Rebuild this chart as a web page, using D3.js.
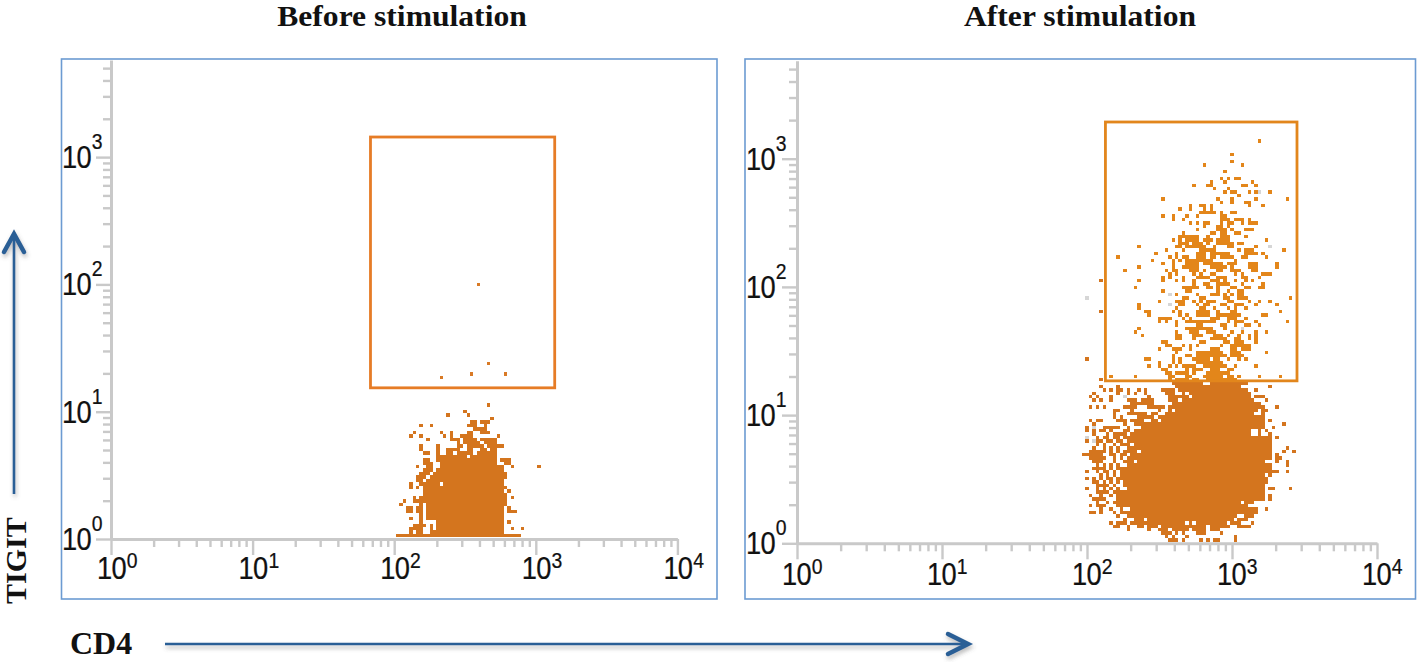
<!DOCTYPE html>
<html>
<head>
<meta charset="utf-8">
<title>TIGIT vs CD4</title>
<script src="https://cdn.jsdelivr.net/npm/d3@7"></script>
<style>
	html, body { margin: 0; padding: 0; background: #fff; }
	svg { display: block; }
</style>
</head>
<body>
<div id="chart"></div>
<script>
// flow cytometer channels: [tigit channel, cd4 channel or [from, to] run, ...]
const beforeEvents = [
	[1,[85,121]],
	[2,89,[91,92],[95,96],[97,116]],
	[3,[89,92],95,[97,116],119,122],
	[4,[90,93],95,[97,116]],
	[5,92,[97,116],118],
	[6,89,92,[94,116]],
	[7,92,[94,116]],
	[8,[88,89],[91,92],[94,116],[118,120]],
	[9,[88,89],[91,92],[94,116],118],
	[10,86,92,[94,117]],
	[11,87,[90,93],[94,117]],
	[12,90,[92,117],119],
	[13,[93,117]],
	[14,[93,116],118],
	[15,89,91,[93,117]],
	[16,89,[92,97],[99,116]],
	[17,[91,92],[94,116]],
	[18,[91,93],[95,117]],
	[19,[92,94],[96,117]],
	[20,[93,95],[97,116]],
	[21,91,[94,95],[98,116],119,127],
	[22,[93,95],[98,99],[100,114],[117,118]],
	[23,[93,94],[97,98],[99,114],[116,118]],
	[24,[97,98],[99,105],[107,114]],
	[25,[93,94],97,[100,101],[103,107],[109,114]],
	[26,92,97,[100,103],[106,107],[110,111],[113,114]],
	[27,92,97,[103,104],[106,110],[112,116]],
	[28,103,[105,109],[111,114]],
	[29,94,[101,103],[105,108],[110,114]],
	[30,89,92,99,101,[104,107],115],
	[31,90,98,101,[106,107],[110,112]],
	[32,[108,111]],
	[33,92,95,[106,108],111],
	[34,[107,108],[110,112]],
	[35,113],
	[36,100,106],
	[37,105],
	[39,112],
	[47,98],
	[48,107,117],
	[51,112],
	[74,109]
];

const afterEvents = [
	[118,134],
	[114,126],
	[112,126],
	[111,118,129],
	[109,124],
	[107,123,125,[127,128]],
	[106,120,124,132],
	[105,115,[119,120],[129,130],133],
	[104,121,125],
	[103,124,[126,127],131,133,137],
	[102,128],
	[101,106,122,126,133,142],
	[100,123,126,[130,131]],
	[99,114,[117,118],120,131,135],
	[98,111,114,118,120],
	[97,[117,121],123,[126,127]],
	[96,106,109,113,116,[123,124]],
	[95,109,112,[123,125],[127,129],131],
	[94,114,116,[118,119],123,[125,126],129,[131,133]],
	[93,118,[122,123],125],
	[92,116,[122,124],126,[130,132]],
	[91,112,[120,121],[123,124],[127,128]],
	[90,[111,113],[114,116],119,[123,125],130],
	[89,109,111,[113,116],[118,120],[122,125],136],
	[88,[111,113],[115,117],119,[122,126],[128,129]],
	[87,99,[110,111],[113,118],121,[125,126],133],
	[86,107,112,[117,121],128,[130,132],141],
	[85,104,110,[116,118],[120,125],[130,133],135],
	[84,93,108,110,[112,113],[116,118],[120,121],[123,126],[129,130],136],
	[83,103,109,111,[113,120],127],
	[82,106,109,[113,116],[118,123],[125,127],[131,133],139],
	[81,99,109,[112,116],[120,124],126,[131,133],139],
	[80,95,107,[109,110],[114,116],118,[122,123],[126,128],[132,133]],
	[79,108,110,115,117,[120,121],127,129,[135,137]],
	[78,106,108,112,[116,119],[122,124],[129,130],134],
	[77,88,99,106,110,112,115,[120,122],124,127,130,132],
	[76,115,[118,119],[122,125],129,135],
	[75,98,[112,116],[119,120],122,[126,127],[130,131],[134,135]],
	[74,106,[113,114],122,125,[128,129]],
	[73,110,116,[120,122],124,126,[128,129]],
	[72,143,[112,113],[117,118],[124,125],[128,130]],
	[71,105,[110,112],115,117,[119,121],[125,126],131,134,137],
	[70,99,[111,112],116,[118,119],[123,124],127,[128,129],133,139],
	[69,99,110,[117,118],121,125,127,130],
	[68,88,101,102,109,111,[116,119],122,[126,127],140],
	[67,102,111,113,[116,119],[122,128],[135,136]],
	[66,105,[106,108],112,114,[120,122],[125,127],130],
	[65,105,107,110,[113,121],125,[127,129],133,142],
	[64,110,[116,117],[123,124],127,[130,131],134],
	[63,99,[113,120],124],
	[62,98,110,[114,116],[119,121],126,129,133,136],
	[61,100,[110,111],[115,117],[121,123],125,128,131,133],
	[60,[110,111],115,[120,124],[127,128],131,133],
	[59,[106,107],[117,118],[124,125],[127,129],133],
	[58,[107,108],112,114,116,123,[126,131]],
	[57,105,[109,111],114,[120,122],[126,127],[129,131]],
	[56,110,[116,123],[126,128],136],
	[55,109,[113,114],[116,124],[126,129]],
	[54,84,[101,102],109,111,[115,119],[121,122],125,128,130],
	[53,105,109,111,[116,123]],
	[52,102,105,108,110,[112,115],[118,124],127,133],
	[51,[106,107],113,[115,117],[120,122],[125,126]],
	[50,[107,108],[110,113],115,[119,125]],
	[49,91,98,[108,109],[113,114],[118,123],[125,126],128,134,140],
	[48,88,108,[110,113],[115,116],[119,127]],
	[47,[109,117],[120,130]],
	[46,88,93,[110,128],137],
	[45,89,91,[93,94],96,99,101,[106,109],[111,130],133],
	[44,86,93,96,98,101,[107,109],112,[114,131]],
	[43,85,87,91,102,[108,113],[115,131],[133,135]],
	[42,86,88,91,[96,98],[100,103],[108,110],[112,132],136],
	[41,[97,103],[109,134]],
	[40,85,87,89,[95,98],[102,106],[108,135],139],
	[39,[92,93],97,105,108,[110,133],[135,136]],
	[38,92,[96,101],[103,104],[107,132],135],
	[37,92,94,[99,103],[105,135]],
	[36,85,[87,88],[93,95],[97,100],[103,104],[106,135],137],
	[35,86,95,[98,135],141],
	[34,84,89,[90,93],96,[100,135],138],
	[33,84,86,[88,89],91,[95,96],[98,131],134,136],
	[32,86,90,[92,95],[97,131],134,137],
	[31,87,[89,90],[92,93],[95,137],139],
	[30,84,[87,88],[90,91],[93,94],[96,137]],
	[29,87,89,92,[94,96],[98,137]],
	[28,86,89,91,93,[96,137],142],
	[27,[85,89],91,93,[95,98],[100,137],141,144],
	[26,[83,88],[91,92],[94,95],[97,137],139],
	[25,[85,89],92,94,[96,137],[139,140]],
	[24,[86,88],92,[95,97],[99,135],139,142],
	[23,87,89,91,93,[96,137],142],
	[22,[86,89],91,[93,137]],
	[21,84,87,[89,90],92,[94,137],[138,139],142],
	[20,88,90,92,[94,135],137],
	[19,84,86,88,[90,91],[93,136]],
	[18,[86,87],89,91,93,[95,136]],
	[17,[87,90],92,[95,135]],
	[16,84,87,89,91,93,[96,135],[137,138],143],
	[15,[87,90],[92,93],[94,135]],
	[14,85,88,91,[93,135],137],
	[13,[86,89],93,[94,135],137],
	[12,87,90,92,[93,128],[130,132]],
	[11,85,[87,89],[93,130]],
	[10,88,91,94,[97,133],136],
	[9,[85,86],88,92,[94,133]],
	[8,93,[96,127],[130,132]],
	[7,95,[98,100],[102,126],[128,130]],
	[6,91,[93,95],[97,112],114,[116,124],[126,128],132],
	[5,[92,93],96,[99,100],[102,104],[106,118],[120,125],[128,131]],
	[4,96,102,[105,107],[109,113],[115,118],[120,122]],
	[3,[106,108],110,112,[116,118],123],
	[2,107,109,113,127],
	[1,[108,110],112,117,119,[121,122],127]
];

// the few pale grey events of the right plot
const afterFaintEvents = [
	[72,84],[73,108],[70,108],[68,101],[63,129],[44,86],[43,95],[103,134],[87,137],
	[40,85],[34,86],[31,84],[34,93],[30,86],[27,85],[19,84],[19,86],[14,85]
];

const beforeGate = {cd4: [68, 1360], tigit: [15.4, 1438]};
const afterGate = {cd4: [134, 2807], tigit: [18.5, 1933]};

const decades = [0, 1, 2, 3, 4];
const tigitDecades = [0, 1, 2, 3];
const panelTitles = ['Before stimulation', 'After stimulation'];
const xAxisName = 'CD4';
const yAxisName = 'TIGIT';

let width = 1418,
		height = 662,
		axisGrey = '#c9c9c9',
		frameBlue = '#6c9bd2',
		arrowBlue = '#2a5f96',
		sansFont = '"Liberation Sans", Arial, sans-serif',
		serifFont = '"Liberation Serif", "Times New Roman", serif';

let svg = d3.select('#chart').append('svg')
		.attr('width', width)
		.attr('height', height);

let defs = svg.append('defs');
defs.append('filter')
		.attr('id', 'arrowShadow')
		.attr('x', '-10%').attr('y', '-100%')
		.attr('width', '120%').attr('height', '300%')
		.append('feDropShadow')
		.attr('dx', 1).attr('dy', 3)
		.attr('stdDeviation', 2)
		.attr('flood-color', '#555')
		.attr('flood-opacity', .4);

function drawPanel(p) {

	let g = svg.append('g');

	g.append('rect')
			.attr('x', p.frame[0])
			.attr('y', p.frame[1])
			.attr('width', p.frame[2])
			.attr('height', p.frame[3])
			.attr('fill', '#fff')
			.attr('stroke', frameBlue)
			.attr('stroke-width', 1.6);

	let x = d3.scaleLog().domain([1, 1e4]).range([p.originX, p.originX + p.decadeX * 4]);
	let yTop = 5800;
	let y = d3.scaleLog().domain([1, yTop]).range([p.originY, p.originY - p.decadeY * Math.log10(yTop)]);

	// channels to values, so the marks go through the same scales as the axes
	let cd4Value = c => Math.pow(10, c / p.cd4Channels);
	let tigitValue = r => Math.pow(10, r / p.tigitChannels);

	function cells(rows) {
		let out = [];
		rows.forEach(row => {
			row.slice(1).forEach(run => {
				let from = Array.isArray(run) ? run[0] : run;
				let to = Array.isArray(run) ? run[1] : run;
				out.push({row: row[0], from: from, to: to});
			});
		});
		return out;
	}

	let inGate = d => p.gate && tigitValue(d.row) > p.gate.tigit[0] && cd4Value(d.to) > p.gate.cd4[0];

	function drawCells(rows, colour) {
		g.append('g').selectAll('rect')
				.data(cells(rows))
				.enter()
				.append('rect')
				.attr('x', d => x(cd4Value(d.from - .5)))
				.attr('y', d => y(tigitValue(d.row + .5)))
				.attr('width', d => x(cd4Value(d.to + .5)) - x(cd4Value(d.from - .5)))
				.attr('height', d => y(tigitValue(d.row - .5)) - y(tigitValue(d.row + .5)))
				.attr('fill', colour)
				.attr('shape-rendering', 'crispEdges');
	}

	if (p.faint) drawCells(p.faint, () => '#d6d6d6');
	drawCells(p.events, d => inGate(d) ? p.gateDot : '#d4751e');

	// axes
	let xAxis = g.append('g')
			.attr('transform', `translate(0,${p.originY})`)
			.call(d3.axisBottom(x).tickValues(x.ticks()).tickSize(8).tickSizeOuter(0).tickFormat(''));
	let yAxis = g.append('g')
			.attr('transform', `translate(${p.originX},0)`)
			.call(d3.axisLeft(y).tickValues(y.ticks()).tickSize(8).tickSizeOuter(0).tickFormat(''));

	let isMajor = d => Math.abs(Math.log10(d) - Math.round(Math.log10(d))) < 1e-6;
	[xAxis, yAxis].forEach(a => {
		a.select('.domain').attr('stroke', axisGrey).attr('stroke-width', 3);
		a.selectAll('.tick line').attr('stroke', axisGrey).attr('stroke-width', 2.4);
	});
	xAxis.selectAll('.tick line').attr('y2', d => isMajor(d) ? 16 : 8);
	yAxis.selectAll('.tick line').attr('x2', d => isMajor(d) ? -15 : -8);

	// the labels in the picture are tall and narrow
	function powerLabel(sel, px, py, exponent, supShift) {
		sel.attr('transform', `translate(${px},${py}) scale(.88,1)`)
				.attr('fill', '#111')
				.attr('stroke', '#111')
				.attr('stroke-width', .25)
				.style('font-family', sansFont);
		sel.append('tspan')
				.attr('font-size', 31)
				.attr('letter-spacing', -.8)
				.text('10');
		sel.append('tspan')
				.attr('font-size', 22)
				.attr('dx', 1)
				.attr('dy', -supShift)
				.text(exponent);
	}

	decades.forEach(e => {
		g.append('text')
				.call(powerLabel, x(Math.pow(10, e)) + p.xLabelDx, p.originY + p.xLabelDy, e, 11);
	});

	tigitDecades.forEach(e => {
		g.append('text')
				.call(powerLabel, p.originX + p.yLabelDx, y(Math.pow(10, e)) + 11, e, 19);
	});

	// gate
	g.append('rect')
			.attr('x', x(p.gate.cd4[0]))
			.attr('y', y(p.gate.tigit[1]))
			.attr('width', x(p.gate.cd4[1]) - x(p.gate.cd4[0]))
			.attr('height', y(p.gate.tigit[0]) - y(p.gate.tigit[1]))
			.attr('fill', 'none')
			.attr('stroke', p.gateStroke)
			.attr('stroke-width', 2.8);

	// widened a little so the text box stays inside the top edge
	svg.append('text')
			.attr('transform', `translate(${p.titleX},26) scale(1.09,1)`)
			.attr('text-anchor', 'middle')
			.style('font-family', serifFont)
			.style('font-weight', 700)
			.style('font-size', '29px')
			.attr('fill', '#111')
			.text(p.title);
}

drawPanel({
	title: panelTitles[0], titleX: 402,
	frame: [61.5, 59, 655.5, 540],
	originX: 111, originY: 539, decadeX: 141.6, decadeY: 127.3,
	cd4Channels: 42, tigitChannels: 37,
	xLabelDx: -14, xLabelDy: 40, yLabelDx: -49,
	events: beforeEvents, gate: beforeGate,
	gateDot: '#d97a26', gateStroke: '#e67c26'
});

drawPanel({
	title: panelTitles[1], titleX: 1080,
	frame: [745, 59, 670.5, 540],
	originX: 797, originY: 543.3, decadeX: 145, decadeY: 128.2,
	cd4Channels: 42, tigitChannels: 37.6,
	xLabelDx: -15, xLabelDy: 42, yLabelDx: -51,
	events: afterEvents, faint: afterFaintEvents, gate: afterGate,
	gateDot: '#e3861a', gateStroke: '#e2861c'
});

// axis names and arrows
svg.append('text')
		.attr('x', 70)
		.attr('y', 654)
		.style('font-family', serifFont)
		.style('font-weight', 700)
		.style('font-size', '32px')
		.attr('fill', '#111')
		.text(xAxisName);

svg.append('text')
		.attr('transform', 'translate(26,604) rotate(-90)')
		.style('font-family', serifFont)
		.style('font-weight', 700)
		.style('font-size', '30px')
		.attr('fill', '#111')
		.text(yAxisName);

let arrows = svg.append('g')
		.attr('fill', 'none')
		.attr('stroke', arrowBlue)
		.attr('filter', 'url(#arrowShadow)');

arrows.append('path')
		.attr('d', 'M165 644H967')
		.attr('stroke-width', 2.6);
arrows.append('path')
		.attr('d', 'M948 634L968 644L948 654')
		.attr('stroke-width', 4.5)
		.attr('stroke-linecap', 'round')
		.attr('stroke-linejoin', 'miter');

arrows.append('path')
		.attr('d', 'M14 494V234')
		.attr('stroke-width', 2.6);
arrows.append('path')
		.attr('d', 'M4 252L14 234L24 252')
		.attr('stroke-width', 4.5)
		.attr('stroke-linecap', 'round')
		.attr('stroke-linejoin', 'miter');
</script>
</body>
</html>
